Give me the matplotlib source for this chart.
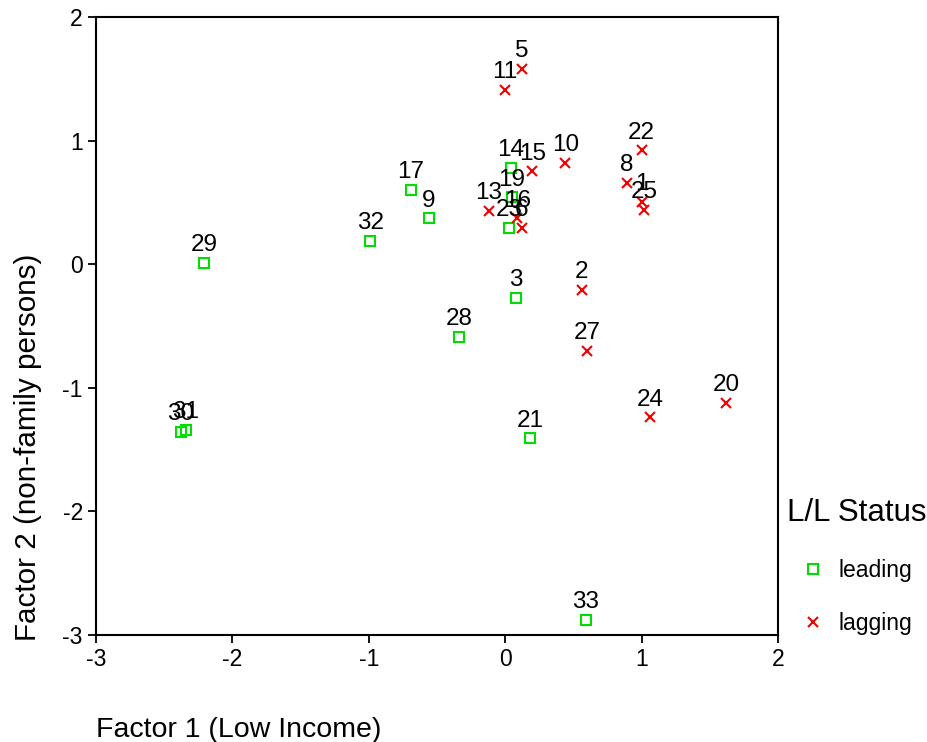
import numpy as np
import matplotlib.pyplot as plt

plt.rcParams['font.family'] = ['Liberation Sans', 'DejaVu Sans']
plt.rcParams['axes.unicode_minus'] = False

# leading cases (green squares)
lead_ids = ['29', '30', '31', '32', '17', '9', '28', '3', '21', '33', '14', '19', '23']
lead_x = [-2.21, -2.38, -2.34, -0.99, -0.69, -0.56, -0.34, 0.08, 0.18, 0.59, 0.04, 0.05, 0.03]
lead_y = [0.01, -1.36, -1.34, 0.19, 0.60, 0.37, -0.59, -0.27, -1.41, -2.88, 0.78, 0.54, 0.29]

# lagging cases (red crosses)
lag_ids = ['5', '11', '22', '8', '1', '25', '10', '15', '13', '16', '6', '2', '27', '24', '20']
lag_x = [0.12, 0.00, 1.00, 0.89, 1.00, 1.02, 0.44, 0.20, -0.12, 0.09, 0.12, 0.56, 0.60, 1.06, 1.62]
lag_y = [1.58, 1.41, 0.92, 0.66, 0.50, 0.44, 0.82, 0.75, 0.43, 0.37, 0.29, -0.21, -0.70, -1.24, -1.12]

fig = plt.figure(figsize=(9.28, 7.42), dpi=100)
ax = fig.add_axes([96/928, 1-635/742, (778-96)/928, (635-17)/742])

ax.plot(lead_x, lead_y, 's', mfc='none', mec='#00dd00', ms=7, mew=1.5, ls='none', label='leading')
ax.plot(lag_x, lag_y, 'x', color='#ee0000', ms=7, mew=1.5, ls='none', label='lagging')

for ids, xs, ys in [(lead_ids, lead_x, lead_y), (lag_ids, lag_x, lag_y)]:
    for t, x, y in zip(ids, xs, ys):
        ax.annotate(t, (x, y), xytext=(0, 5), textcoords='offset points',
                    ha='center', va='bottom', fontsize=17.5)

ax.set_xlim(-3, 2)
ax.set_ylim(-3, 2)
ax.set_xticks([-3, -2, -1, 0, 1, 2])
ax.set_yticks([-3, -2, -1, 0, 1, 2])
ax.tick_params(direction='out', length=6, width=1.3, labelsize=16.5)
for s in ax.spines.values():
    s.set_linewidth(1.5)

fig.text(96/928, 1-730/742, 'Factor 1 (Low Income)', fontsize=20.5, ha='left', va='center')
fig.text(28/928, 1-641/742, 'Factor 2 (non-family persons)', fontsize=21.3,
         rotation=90, ha='center', va='bottom')

leg = ax.legend(loc='upper left', bbox_to_anchor=(776/928, 1-487/742),
                bbox_transform=fig.transFigure, frameon=False, title='L/L Status',
                title_fontsize=22.5, fontsize=16.5, labelspacing=1.3,
                handletextpad=0.6, handlelength=1.0, borderpad=0.0)
leg._legend_box.sep = 22

fig.savefig('out.png', dpi=100)
